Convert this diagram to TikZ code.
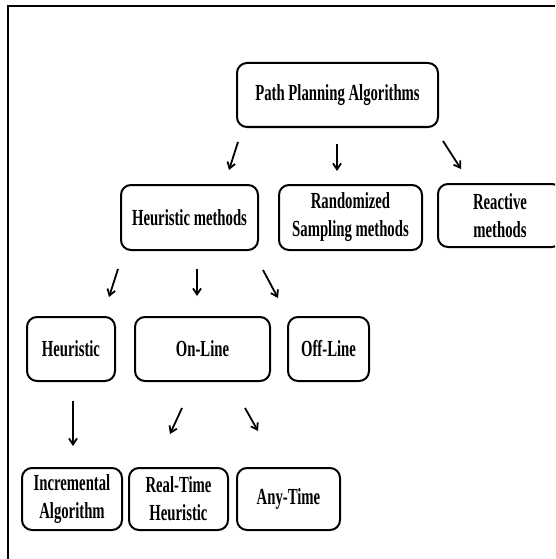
\documentclass[tikz,border=0pt]{standalone}
\usepackage{fontspec}
\setmainfont{Liberation Serif}[FakeStretch=0.64]
\usepackage{tikz}
\usetikzlibrary{arrows.meta}

\begin{document}
\begin{tikzpicture}[->,>={Straight Barb[length=6pt,width=8pt]},x=1pt,y=-1pt,
  algo/.style={draw,line width=2pt,rounded corners=10pt,inner sep=0pt,align=center,
    font=\fontsize{23}{28}\selectfont\bfseries},
  link/.style={line width=1.8pt}]
\useasboundingbox (0,0) rectangle (555,559);
\clip (0,0) rectangle (555,559);
\draw[-,line width=1.6pt] (8,559) -- (8,6) -- (555,6);

\node[algo,minimum width=201pt,minimum height=64pt] (ppa) at (337.5,95) {Path Planning Algorithms};
\node[algo,minimum width=137pt,minimum height=65pt] (heur) at (189.5,217.5) {Heuristic methods};
\node[algo,minimum width=143pt,minimum height=65pt] (rand) at (350.5,217.5) {Randomized\\Sampling methods};
\node[algo,minimum width=124pt,minimum height=63pt] (react) at (500,215.5) {Reactive\\methods};
\node[algo,minimum width=88pt,minimum height=64pt] (hr) at (71,349) {Heuristic};
\node[algo,minimum width=135pt,minimum height=64pt] (onl) at (202.5,349) {On-Line};
\node[algo,minimum width=81pt,minimum height=64pt] (offl) at (328.5,349) {Off-Line};
\node[algo,minimum width=100pt,minimum height=62pt] (incr) at (72,499) {Incremental\\Algorithm};
\node[algo,minimum width=99pt,minimum height=62pt] (rth) at (178.5,499) {Real-Time\\Heuristic};
\node[algo,minimum width=103pt,minimum height=62pt] (anyt) at (288.5,499) {Any-Time};

\path[link] ([shift={(2pt,-14pt)}]ppa.south west) edge ([shift={(39.5pt,14pt)}]heur.north);
\path[link] ([shift={(-0.5pt,-16pt)}]ppa.south) edge ([shift={(-13.5pt,13pt)}]rand.north);
\path[link] ([shift={(4pt,-13pt)}]ppa.south east) edge ([shift={(24pt,14pt)}]react.north west);
\path[link] ([shift={(-2pt,-18pt)}]heur.south west) edge ([shift={(38pt,19pt)}]hr.north);
\path[link] ([shift={(7.5pt,-18pt)}]heur.south) edge ([shift={(-5.5pt,20pt)}]onl.north);
\path[link] ([shift={(4pt,-19pt)}]heur.south east) edge ([shift={(-9pt,18pt)}]offl.north west);
\path[link] ([shift={(2pt,-19pt)}]hr.south) edge ([shift={(1pt,21pt)}]incr.north);
\path[link] ([shift={(-20.5pt,-26pt)}]onl.south) edge ([shift={(-8.5pt,33pt)}]rth.north);
\path[link] ([shift={(-26pt,-26pt)}]onl.south east) edge ([shift={(-30.5pt,36pt)}]anyt.north);
\end{tikzpicture}
\end{document}
